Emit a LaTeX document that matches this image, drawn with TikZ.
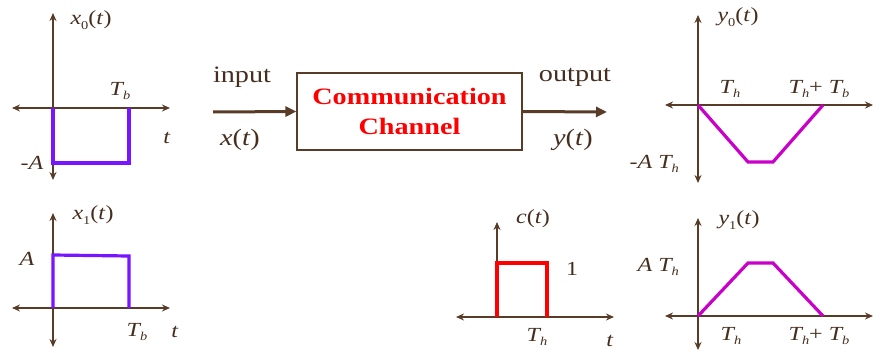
\documentclass[tikz,border=0pt]{standalone}
\usepackage{fontspec}
\usepackage{graphicx}
\setmainfont{Liberation Serif}
\usetikzlibrary{arrows.meta}
\definecolor{axbrown}{RGB}{88,60,40}
\definecolor{txtbrown}{RGB}{70,46,30}
\definecolor{pulsecol}{RGB}{120,20,255}
\definecolor{trapcol}{RGB}{200,0,200}
\definecolor{chred}{RGB}{255,0,0}
\newcommand\Wd[1]{\scalebox{1.2}[1]{#1}}
\newcommand\Sb[1]{\raisebox{-0.22em}{\fontsize{12}{12}\selectfont #1}}
\newcommand\Lt{\fontsize{20}{22}\selectfont}
\begin{document}
\begin{tikzpicture}[x=1pt,y=-1pt,
  axis/.style={draw=axbrown,line width=1.4pt,{Stealth[length=8pt,width=7pt]}-{Stealth[length=8pt,width=7pt]}},
  upaxis/.style={draw=axbrown,line width=1.4pt,-{Stealth[length=8pt,width=7pt]}},
  pline/.style={draw=pulsecol,line width=3.2pt},
  tline/.style={draw=trapcol,line width=3.2pt,line join=miter},
  rline/.style={draw=chred,line width=3.2pt},
  lbl/.style={text=txtbrown,font=\Lt,inner sep=0pt},
  big/.style={text=txtbrown,font=\fontsize{23.5}{25}\selectfont,inner sep=0pt},
  bigarrow/.style={draw=axbrown,line width=3pt,-{Triangle[length=11pt,width=10pt]}}]
\useasboundingbox (0,0) rectangle (880,353);
% ---- x0(t)
\draw[axis] (12,108) -- (170,108);
\draw[axis] (53,13) -- (53,180);
\draw[pline] (53,108) -- (53,163) -- (129,163) -- (129,108);
\node[lbl] (x0l) at (91,20) {\Wd{\textit{x}\Sb{0}(\textit{t})}};
\node[lbl] (x0tb) at (120,91) {\Wd{\textit{T\Sb{b}}}};
\node[lbl] (x0t) at (167,138) {\Wd{\textit{t}}};
\node[lbl] (x0a) at (32,163) {\Wd{-\textit{A}}};
% ---- x1(t)
\draw[axis] (12,308) -- (170,308);
\draw[axis] (53,213) -- (53,347);
\draw[pline] (53,308) -- (53,255) -- (129,256) -- (129,308);
\node[lbl] (x1l) at (93,215) {\Wd{\textit{x}\Sb{1}(\textit{t})}};
\node[lbl] (x1a) at (27,259) {\Wd{\textit{A}}};
\node[lbl] (x1tb) at (137,332) {\Wd{\textit{T\Sb{b}}}};
\node[lbl] (x1t) at (175,332) {\Wd{\textit{t}}};
% ---- channel
\node[draw=axbrown,line width=1.2pt,minimum width=225pt,minimum height=77pt,
      text=chred,font=\fontsize{23.5}{30}\selectfont\bfseries,align=center,inner sep=0pt]
      (ch) at (409.5,111.5) {\Wd{Communication}\\\Wd{Channel}};
\coordinate (in) at (213,112);
\coordinate (out) at (607,112);
\draw[bigarrow] (in) -- (ch.west);
\draw[bigarrow] (ch.east) -- (out);
\node[big] (inl) at (242,77) {\Wd{input}};
\node[big] (xl) at (240,140) {\Wd{\textit{x}(\textit{t})}};
\node[big] (outl) at (575,77) {\Wd{output}};
\node[big] (yl) at (573,140) {\Wd{\textit{y}(\textit{t})}};
% ---- c(t)
\draw[axis] (456,317) -- (614,317);
\draw[upaxis] (497,317) -- (497,222);
\draw[rline] (497,317) -- (497,263) -- (547,263) -- (547,317);
\node[lbl] (cl) at (533,219) {\Wd{\textit{c}(\textit{t})}};
\node[lbl] (c1) at (572,269) {\Wd{1}};
\node[lbl] (cth) at (537,337) {\Wd{\textit{T\Sb{h}}}};
\node[lbl] (ct) at (610,341) {\Wd{\textit{t}}};
% ---- y0(t)
\draw[axis] (665,105) -- (873,105);
\draw[axis] (698,15) -- (698,183);
\draw[tline] (698,105) -- (748,162) -- (773,162) -- (823,105);
\node[lbl] (y0l) at (738,17) {\Wd{\textit{y}\Sb{0}(\textit{t})}};
\node[lbl] (y0th) at (730,89) {\Wd{\textit{T\Sb{h}}}};
\node[lbl] (y0s) at (819,89) {\Wd{\textit{T\Sb{h}}+ \textit{T\Sb{b}}}};
\node[lbl,anchor=east] (y0a) at (679,164) {\Wd{-\textit{A T\Sb{h}}}};
% ---- y1(t)
\draw[axis] (665,316) -- (873,316);
\draw[axis] (698,218) -- (698,350);
\draw[tline] (698,316) -- (748,263) -- (773,263) -- (823,316);
\node[lbl] (y1l) at (739,220) {\Wd{\textit{y}\Sb{1}(\textit{t})}};
\node[lbl,anchor=east] (y1a) at (679,267) {\Wd{\textit{A T\Sb{h}}}};
\node[lbl] (y1th) at (731,336) {\Wd{\textit{T\Sb{h}}}};
\node[lbl] (y1s) at (819,336) {\Wd{\textit{T\Sb{h}}+ \textit{T\Sb{b}}}};
\end{tikzpicture}
\end{document}
